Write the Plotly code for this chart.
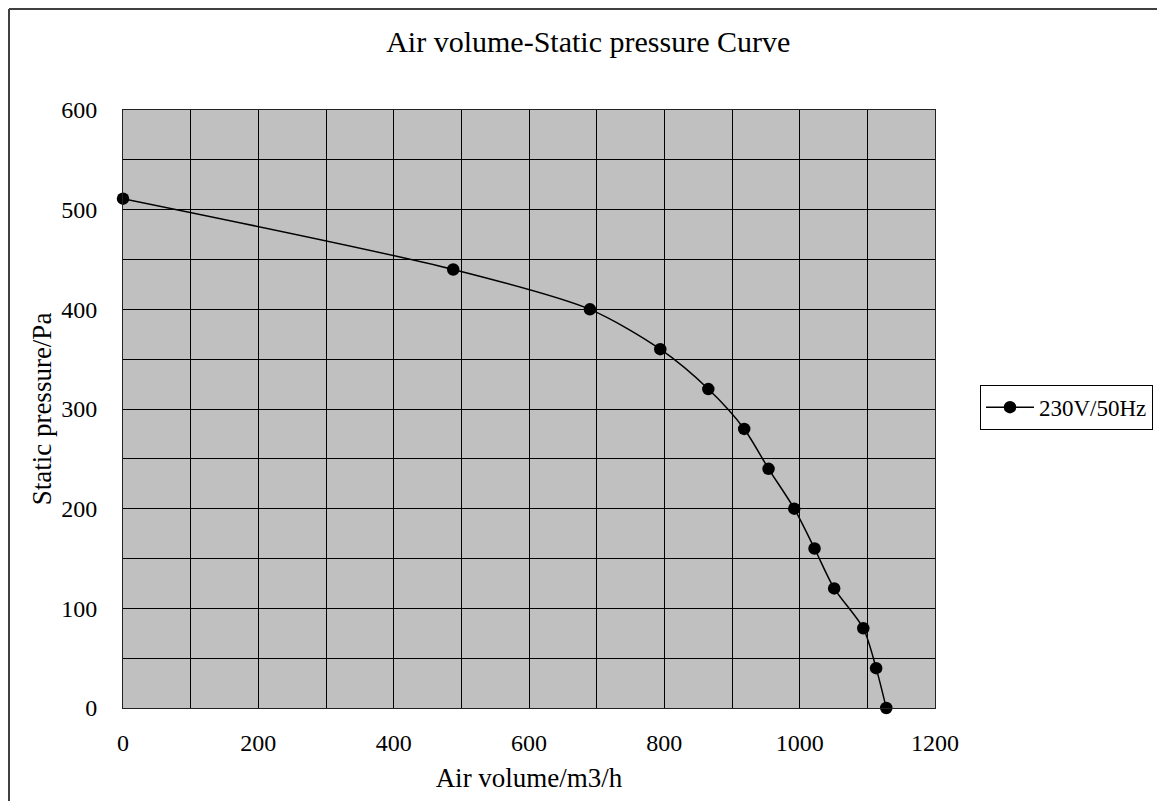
import plotly.graph_objects as go

# Data
air_volume = [0, 488, 690, 794, 865, 918, 954, 992, 1022, 1051, 1094, 1113, 1128]
static_pressure = [511, 440, 400, 360, 320, 280, 240, 200, 160, 120, 80, 40, 0]
series_name = "230V/50Hz"
title_text = "Air volume-Static pressure Curve"
x_title = "Air volume/m3/h"
y_title = "Static pressure/Pa"

FONT = "Liberation Serif"

W, H = 1149, 793
ML, MR, MT, MB = 115, 222, 102, 93
PW, PH = W - ML - MR, H - MT - MB

def px(fx):
    return (fx - ML) / PW

def py(fy):
    return (H - MB - fy) / PH

fig = go.Figure()
fig.add_trace(go.Scatter(
    x=air_volume, y=static_pressure, name=series_name,
    mode="lines+markers",
    line=dict(color="black", width=1.5, shape="spline", smoothing=0.8),
    marker=dict(color="black", size=12.5),
    cliponaxis=False,
    showlegend=True,
))

axis_common = dict(
    showline=True, linecolor="#222222", linewidth=1, mirror=True,
    showgrid=True, gridcolor="black", gridwidth=1,
    zeroline=False, ticks="",
    tickfont=dict(family=FONT, size=24, color="black"),
)

fig.update_xaxes(
    range=[0, 1200], dtick=200, tick0=0,
    minor=dict(dtick=100, showgrid=True, gridcolor="black", gridwidth=1),
    ticklabelstandoff=13,
    title=dict(text=x_title, font=dict(family=FONT, size=27, color="black"), standoff=13),
    **axis_common,
)
fig.update_yaxes(
    range=[0, 600], dtick=100, tick0=0,
    minor=dict(dtick=50, showgrid=True, gridcolor="black", gridwidth=1),
    ticklabelstandoff=20,
    title=dict(text=y_title, font=dict(family=FONT, size=27, color="black"), standoff=1),
    **axis_common,
)

# chart-area frame (left and top edges visible in the reference)
fig.add_shape(type="line", xref="paper", yref="paper",
              x0=px(1), x1=px(1), y0=py(1), y1=py(H),
              line=dict(color="#404040", width=2))
fig.add_shape(type="line", xref="paper", yref="paper",
              x0=px(1), x1=px(W), y0=py(1), y1=py(1),
              line=dict(color="#404040", width=2))

fig.update_layout(
    width=W, height=H,
    margin=dict(l=ML, r=MR, t=MT, b=MB, autoexpand=False),
    paper_bgcolor="white", plot_bgcolor="#C0C0C0",
    title=dict(text=title_text, x=0.505, xanchor="center", xref="container",
               y=1 - 33 / H, yanchor="middle", yref="container",
               font=dict(family=FONT, size=30, color="black")),
    legend=dict(x=px(972), xanchor="left", y=0.503, yanchor="middle",
                bordercolor="black", borderwidth=1, bgcolor="white",
                font=dict(family=FONT, size=23, color="black"),
                itemwidth=48, tracegroupgap=0),
    showlegend=True,
)

fig.write_html("out.html")
